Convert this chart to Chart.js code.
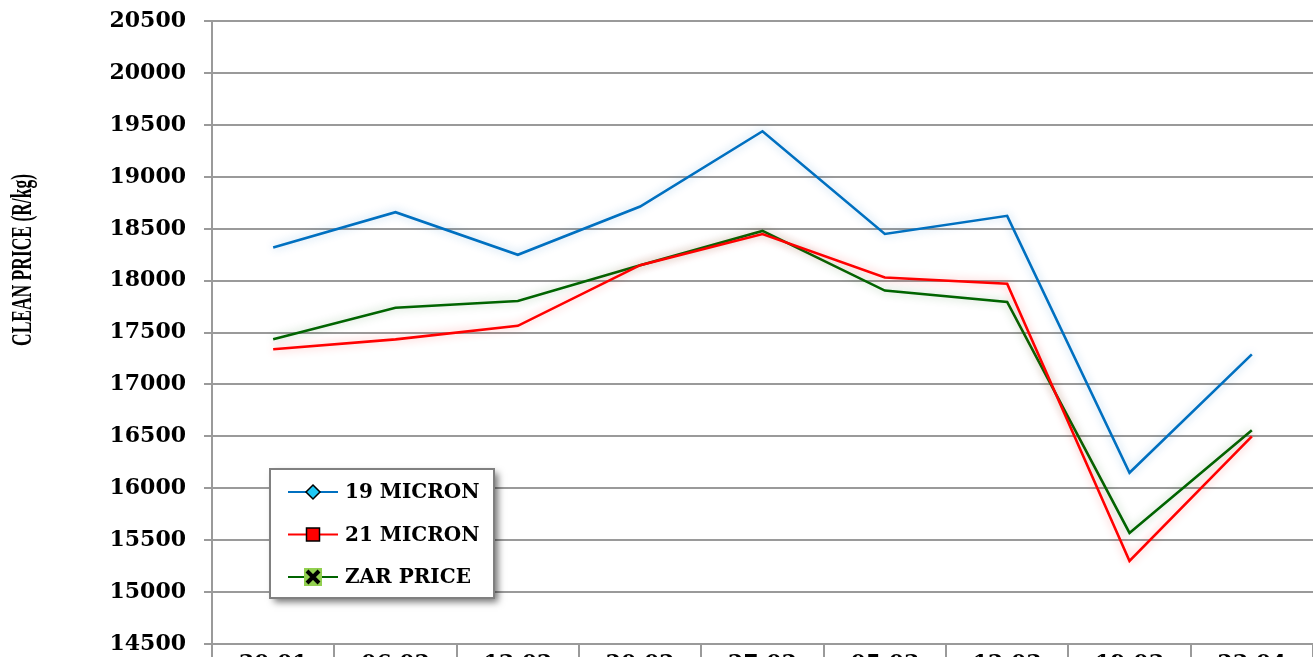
<!DOCTYPE html>
<html lang="en">
  <head>
    <meta charset="UTF-8" />
    <title>Clean Price</title>
    <script src="https://cdn.jsdelivr.net/npm/chart.js"></script>
    <style>
      body {
        margin: 0;
        background: #fff;
        overflow: hidden;
      }
      .wrap {
        position: relative;
        width: 1313px;
        height: 710px;
        margin-top: -10px;
      }
    </style>
  </head>
  <body>
    <div class="wrap">
      <canvas id="price-chart"></canvas>
    </div>

    <script>
      // sale dates (bottom labels are cut off in the original)
      const saleDates = ["30.01", "06.02", "13.02", "20.02", "27.02", "05.03", "12.03", "19.03", "23.04"];

      const micron19 = [18320, 18660, 18250, 18715, 19440, 18450, 18625, 16150, 17290];
      const micron21 = [17340, 17435, 17565, 18150, 18450, 18030, 17970, 15300, 16500];
      const zarPrice = [17435, 17740, 17805, 18150, 18480, 17905, 17795, 15570, 16560];

      const yMin = 14500;
      const yMax = 20500;
      const yStep = 500;
      const yTitle = "CLEAN PRICE (R/kg)";

      const gridGrey = "#9a9a9a";
      const serif = "'DejaVu Serif', serif";

      // soft glow under each line, like the excel shadow
      const glowPlugin = {
        id: "glow",
        beforeDatasetDraw(chart, args) {
          const ctx = chart.ctx;
          ctx.save();
          ctx.shadowColor = args.meta.dataset.options.borderColor + "55";
          ctx.shadowBlur = 10;
          ctx.shadowOffsetX = 0;
          ctx.shadowOffsetY = 0;
        },
        afterDatasetDraw(chart) {
          chart.ctx.restore();
        },
      };

      // narrow bold axis title, sits a bit above the middle like the original
      const axisTitlePlugin = {
        id: "axisTitle",
        afterDraw(chart) {
          const ctx = chart.ctx;
          ctx.save();
          ctx.translate(24, 270);
          ctx.rotate(-Math.PI / 2);
          ctx.font = "bold 29px 'Liberation Serif', serif";
          const w = ctx.measureText(yTitle).width;
          ctx.scale(172 / w, 1);
          ctx.fillStyle = "#000";
          ctx.textAlign = "center";
          ctx.textBaseline = "middle";
          ctx.fillText(yTitle, 0, 0);
          ctx.restore();
        },
      };

      // boxed legend sitting inside the plot
      const legendPlugin = {
        id: "boxLegend",
        afterDraw(chart) {
          const ctx = chart.ctx;
          const area = chart.chartArea;
          const x = area.left + 58;
          const y = 479;
          const w = 224;
          const h = 129;

          ctx.save();
          ctx.shadowColor = "rgba(0,0,0,0.55)";
          ctx.shadowBlur = 7;
          ctx.shadowOffsetX = 4;
          ctx.shadowOffsetY = 4;
          ctx.fillStyle = "#fff";
          ctx.fillRect(x, y, w, h);
          ctx.restore();

          ctx.save();
          ctx.strokeStyle = "#808080";
          ctx.lineWidth = 2;
          ctx.strokeRect(x, y, w, h);

          const rows = [
            { label: "19 MICRON", color: "#0070c0", marker: "diamond" },
            { label: "21 MICRON", color: "#ff0000", marker: "square" },
            { label: "ZAR PRICE", color: "#006400", marker: "cross" },
          ];
          rows.forEach((row, i) => {
            const cy = y + 23 + i * 42.5;
            const mx = x + 43;
            ctx.strokeStyle = row.color;
            ctx.lineWidth = 2;
            ctx.beginPath();
            ctx.moveTo(x + 18, cy);
            ctx.lineTo(x + 68, cy);
            ctx.stroke();

            ctx.lineWidth = 1.5;
            ctx.strokeStyle = "#000";
            if (row.marker === "diamond") {
              ctx.fillStyle = "#1ec8f5";
              ctx.beginPath();
              ctx.moveTo(mx, cy - 7);
              ctx.lineTo(mx + 7, cy);
              ctx.lineTo(mx, cy + 7);
              ctx.lineTo(mx - 7, cy);
              ctx.closePath();
              ctx.fill();
              ctx.stroke();
            } else if (row.marker === "square") {
              ctx.fillStyle = "#ff0000";
              ctx.fillRect(mx - 6.5, cy - 6.5, 13, 13);
              ctx.strokeRect(mx - 6.5, cy - 6.5, 13, 13);
            } else {
              ctx.fillStyle = "#92d050";
              ctx.fillRect(mx - 9, cy - 9, 18, 18);
              ctx.lineWidth = 4;
              ctx.beginPath();
              ctx.moveTo(mx - 6, cy - 6);
              ctx.lineTo(mx + 6, cy + 6);
              ctx.moveTo(mx + 6, cy - 6);
              ctx.lineTo(mx - 6, cy + 6);
              ctx.stroke();
            }

            ctx.fillStyle = "#000";
            ctx.font = "bold 20px " + serif;
            ctx.textBaseline = "middle";
            ctx.textAlign = "left";
            ctx.fillText(row.label, x + 75, cy + 1);
          });
          ctx.restore();
        },
      };

      new Chart(document.getElementById("price-chart"), {
        type: "line",
        data: {
          labels: saleDates,
          datasets: [
            { label: "19 MICRON", data: micron19, borderColor: "#0070c0" },
            { label: "21 MICRON", data: micron21, borderColor: "#ff0000" },
            { label: "ZAR PRICE", data: zarPrice, borderColor: "#006400" },
          ],
        },
        options: {
          responsive: true,
          maintainAspectRatio: false,
          animation: false,
          layout: {
            padding: { top: 10, left: 0, right: 0, bottom: 0 },
          },
          elements: {
            line: { borderWidth: 2.6, tension: 0, fill: false },
            point: { radius: 0 },
          },
          plugins: {
            legend: { display: false },
            tooltip: { enabled: false },
          },
          scales: {
            x: {
              offset: true,
              grid: {
                offset: true,
                drawOnChartArea: false,
                color: gridGrey,
                lineWidth: 2,
                tickLength: 14,
              },
              border: { color: gridGrey, width: 2 },
              ticks: {
                color: "#000",
                padding: -7,
                maxRotation: 0,
                font: { family: serif, size: 22, weight: "bold" },
              },
              afterFit(scale) {
                scale.height = 56;
              },
            },
            y: {
              min: yMin,
              max: yMax,
              ticks: {
                stepSize: yStep,
                color: "#000",
                padding: 18,
                font: { family: serif, size: 22, weight: "bold" },
                callback: (value) => String(value),
              },
              grid: {
                color: gridGrey,
                lineWidth: 2,
                tickLength: 8,
              },
              border: { color: gridGrey, width: 2 },
              afterFit(scale) {
                scale.width = 212;
              },
            },
          },
        },
        plugins: [glowPlugin, axisTitlePlugin, legendPlugin],
      });
    </script>
  </body>
</html>
